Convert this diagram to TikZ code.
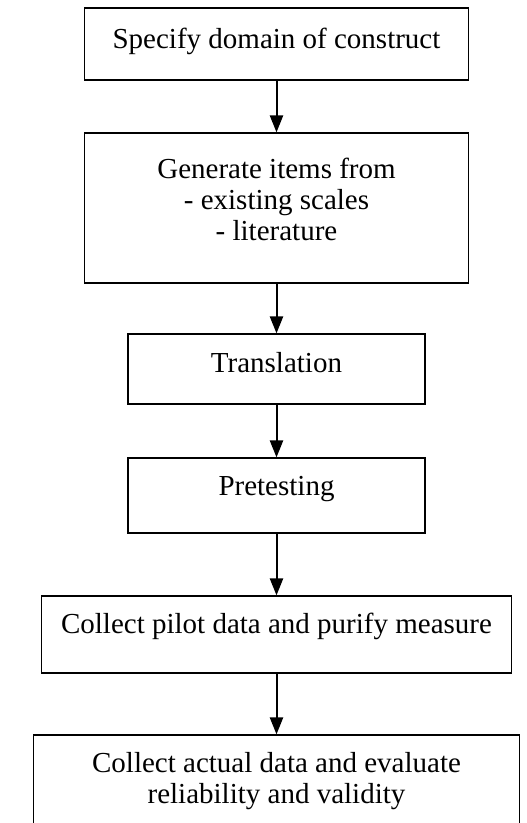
\documentclass[tikz,border=0pt]{standalone}
\usepackage{fontspec}
\setmainfont{Liberation Serif}
\usetikzlibrary{arrows.meta}
\begin{document}
\begin{tikzpicture}[x=1pt, y=-1pt,
    every node/.style={draw, line width=1.1pt, inner sep=0pt,
      font=\fontsize{29}{31}\selectfont, text height=20pt},
    flow/.style={line width=2pt, -{Triangle[width=13pt,length=17pt]}}]
  \useasboundingbox (0,0) rectangle (527,823);

  \node (spec) at (276.5,44) [minimum width=384pt, minimum height=72pt, text depth=12pt] {Specify domain of construct};
  \node (gen) at (276.5,208) [minimum width=384pt, minimum height=150pt, text depth=80pt]
    {\begin{tabular}[t]{@{}c@{}}Generate items from\\- existing scales\\- literature\end{tabular}};

  \node (trans) at (276.5,369) [minimum width=297pt, minimum height=70pt, text depth=14pt] {Translation};
  \node (pre) at (276.5,495.5) [minimum width=297pt, minimum height=75pt, text depth=21pt] {Pretesting};

  \node (pilot) at (276.5,634.5) [minimum width=470pt, minimum height=77pt, text depth=23pt] {Collect pilot data and purify measure};
  \node (actual) at (276.5,810) [minimum width=486pt, minimum height=150pt, text depth=96pt]
    {\begin{tabular}[t]{@{}c@{}}Collect actual data and evaluate\\reliability and validity\end{tabular}};

  % arrows between the steps
  \draw[flow] (spec) -- (gen);
  \draw[flow] (gen) -- (trans);
  \draw[flow] (trans) -- (pre);
  \draw[flow] (pre) -- (pilot);
  \draw[flow] (pilot) -- (actual);
\end{tikzpicture}
\end{document}
